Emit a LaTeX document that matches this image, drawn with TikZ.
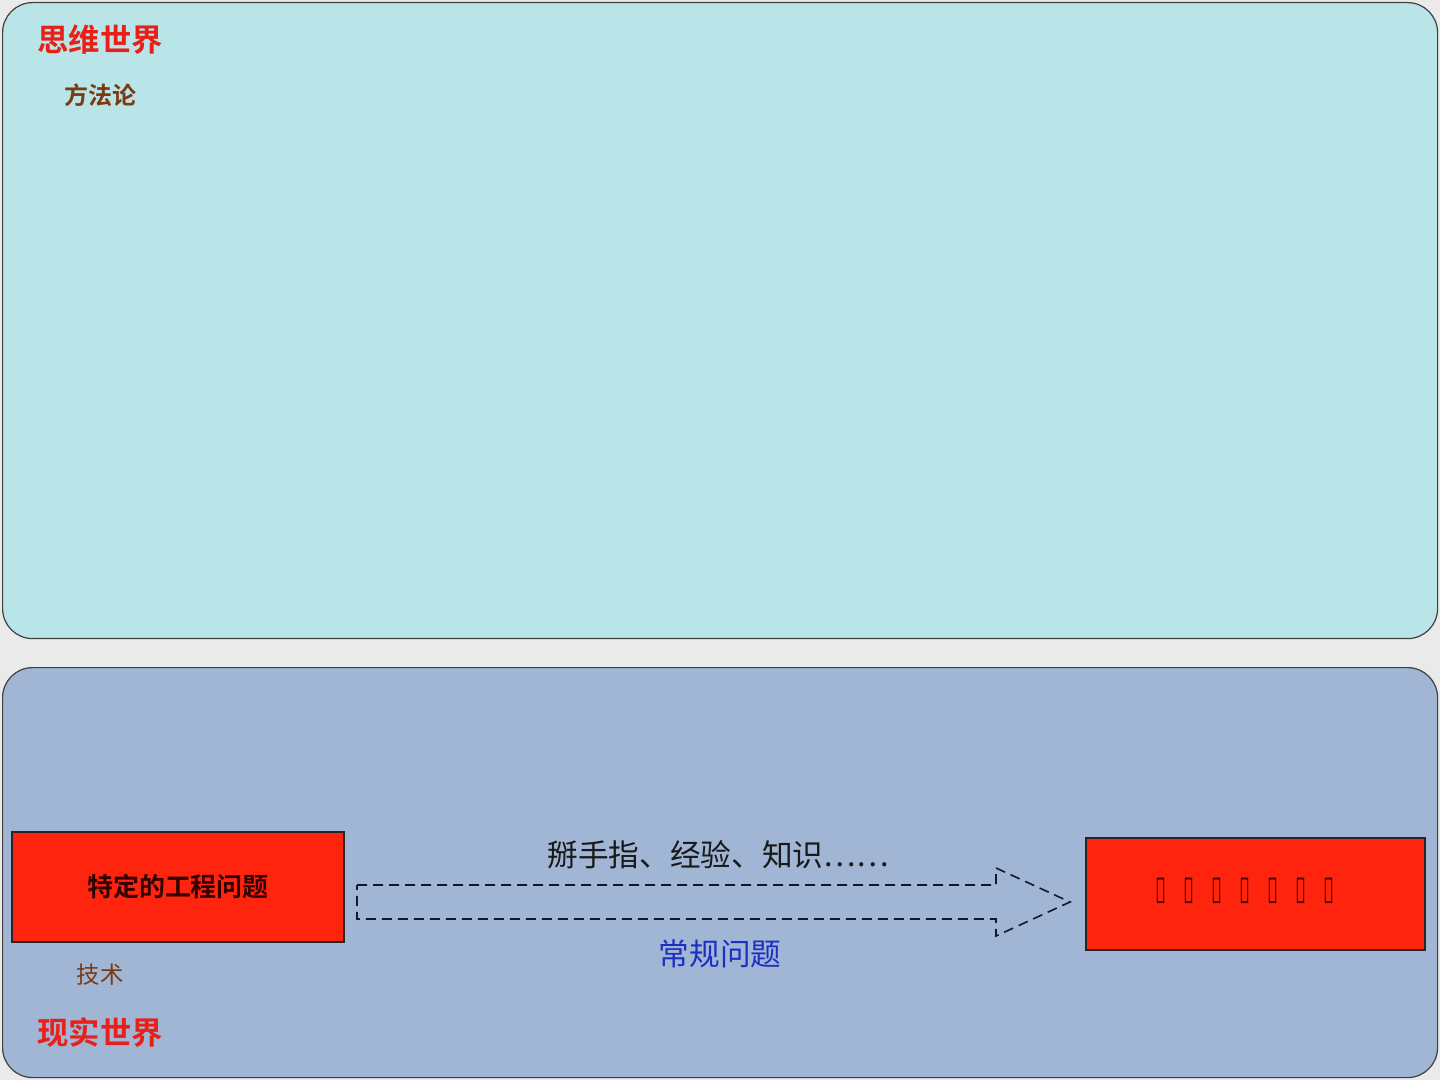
\documentclass[tikz,border=0pt]{standalone}
\usepackage{fontspec}
\newfontfamily\cjk{Noto Sans CJK SC}[BoldFont={Noto Sans CJK SC Bold}]
\newfontfamily\symb{DejaVu Sans}
\usetikzlibrary{positioning}
\newcommand{\px}{0.75pt}
\definecolor{pagebg}{HTML}{EAEAEA}
\definecolor{thinkbg}{HTML}{B9E5E8}
\definecolor{realbg}{HTML}{A1B5D4}
\definecolor{boxred}{HTML}{FF240E}
\definecolor{titlered}{HTML}{E8201A}
\definecolor{labelbrown}{HTML}{7B3A10}
\definecolor{labelblue}{HTML}{1C2FC4}
\definecolor{arrowline}{HTML}{0F1A30}
\tikzset{panel/.style={draw=black!75,line width=1.2*\px,rounded corners=30*\px,anchor=north west,inner sep=0pt},
	 redbox/.style={draw=black!85,fill=boxred,line width=2.2*\px,inner sep=0pt},
	 worldtitle/.style={text=titlered,font=\cjk\bfseries\fontsize{23.5pt}{26pt}\selectfont},
	 sublabel/.style={text=labelbrown,font=\cjk\bfseries\fontsize{18pt}{21pt}\selectfont},
	 blockarrow/.style={draw=arrowline,line width=1.6*\px,dash pattern=on 10*\px off 6*\px}
	 }
\begin{document}
\begin{tikzpicture}[x=\px,y=-\px] % thinking world vs. real world
	\fill[pagebg] (0,0) rectangle (1440,1080);
	\useasboundingbox (0,0) rectangle (1440,1080);
	\node[panel,fill=thinkbg,minimum width=1435*\px,minimum height=636*\px] (think) at (2,2) {};
	\node[panel,fill=realbg,minimum width=1435*\px,minimum height=410*\px] (real) at (2,667) {};
	\node[worldtitle] (thinktitle) at (100,40) {思维世界};
	\node[sublabel] (method) [below=20*\px of thinktitle] {方法论};
	\node[redbox,minimum width=332*\px,minimum height=110*\px,text=black!80!red,font=\cjk\bfseries\fontsize{19.5pt}{22pt}\selectfont] (problem) at (178,887) {特定的工程问题};
	\node[redbox,minimum width=339*\px,minimum height=112*\px] (answer) at (1255.5,894) {};
	\foreach \i in {0,...,6}
		\node[text=black!70!red,font=\symb\fontsize{25pt}{25pt}\selectfont,inner sep=0pt] (q\i) at (1161+28*\i,891) {\scalebox{0.6}[1]{▯}};
	\node[sublabel,font=\cjk\fontsize{17.5pt}{20pt}\selectfont] (tech) at (100,975) {技术};
	\node[worldtitle] (realtitle) at (100,1032) {现实世界};
	\coordinate (tail) at (357,902);
	\coordinate (tip) at (1070,902);
	\draw[blockarrow] (tail) ++(0,-17) -- ++(639,0) -- ++(0,-17) -- (tip) -- ++(-74,34) -- ++(0,-17) -- ++(-639,0) -- cycle;
	\node[font=\cjk\fontsize{23pt}{26pt}\selectfont,text=black!90] (means) at (718,855) {掰手指、经验、知识……};
	\node[font=\cjk\fontsize{23pt}{26pt}\selectfont,text=labelblue] (routine) at (720,954) {常规问题};
\end{tikzpicture}
\end{document}
